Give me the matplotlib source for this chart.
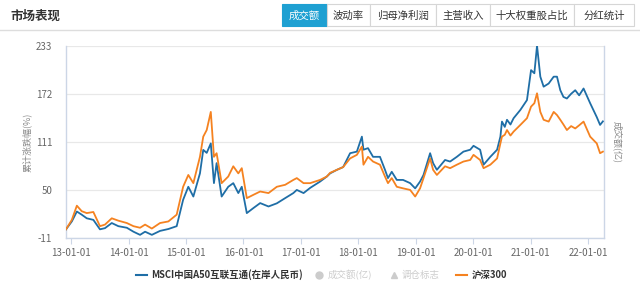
import pandas as pd
import matplotlib
matplotlib.use("Agg")
import matplotlib.pyplot as plt
from matplotlib.patches import Rectangle

plt.rcParams['font.family'] = ['Noto Sans CJK SC', 'DejaVu Sans']

# 数据
dates = ["2012-11-28", "2013-01-04", "2013-02-05", "2013-03-08", "2013-04-09", "2013-05-21",
         "2013-07-02", "2013-08-03", "2013-09-15", "2013-10-27", "2013-12-20", "2014-01-31",
         "2014-03-14", "2014-04-15", "2014-05-28", "2014-07-19", "2014-09-10", "2014-11-02",
         "2014-12-13", "2015-01-15", "2015-02-16", "2015-03-30", "2015-04-20", "2015-05-12",
         "2015-06-07", "2015-06-27", "2015-07-14", "2015-08-15", "2015-09-26", "2015-10-28",
         "2015-11-29", "2015-12-21", "2016-01-22", "2016-03-04", "2016-04-16", "2016-06-08",
         "2016-07-31", "2016-09-22", "2016-11-13", "2016-12-05", "2017-01-17", "2017-02-28",
         "2017-05-02", "2017-06-14", "2017-07-05", "2017-08-17", "2017-09-26", "2017-11-09",
         "2017-12-22", "2018-01-23", "2018-02-02", "2018-03-03", "2018-04-04", "2018-05-18",
         "2018-06-19", "2018-07-08", "2018-08-01", "2018-09-02", "2018-10-12", "2018-11-26",
         "2018-12-28", "2019-01-28", "2019-02-19", "2019-04-02", "2019-04-21", "2019-05-15",
         "2019-07-06", "2019-08-07", "2019-09-19", "2019-10-31", "2019-12-13", "2020-01-03",
         "2020-02-14", "2020-03-07", "2020-04-19", "2020-06-01", "2020-06-22", "2020-07-02",
         "2020-07-20", "2020-08-03", "2020-08-25", "2020-09-14", "2020-10-27", "2020-12-08",
         "2021-01-03", "2021-01-24", "2021-02-10", "2021-03-03", "2021-03-24", "2021-04-25",
         "2021-05-27", "2021-06-17", "2021-07-08", "2021-07-28", "2021-08-19", "2021-09-15",
         "2021-10-11", "2021-11-05", "2021-12-03", "2022-01-14", "2022-02-25", "2022-03-18",
         "2022-04-05"]

msci_a50 = [0, 10, 22.6, 18.6, 14, 12,
            0, 1.5, 8, 4, 2, -3,
            -7, -3, -7, -2, 0.4, 4,
            37.5, 54, 41.6, 71, 100.8, 97,
            109, 58.6, 84, 41.6, 54, 58.6,
            46, 54, 20.6, 27, 33.3, 29,
            33, 39.6, 46, 50, 46, 52.6,
            60.6, 67, 71, 75.5, 79, 96.6,
            98.6, 117.6, 101, 103, 92, 92,
            75.5, 65, 73, 62.7, 62.7, 58.6,
            52, 60.6, 69, 96.6, 84, 75.5,
            88, 86, 92, 98.6, 101, 106,
            101, 82, 92, 101, 117.6, 136.7,
            130, 139, 133, 141, 151.5, 164,
            202, 198, 233, 193.7, 181, 185,
            193.7, 193.7, 176.5, 168, 166, 172,
            176.5, 170, 178.7, 160, 142.4, 132.5,
            137]

hs300 = [0, 12, 30, 23, 20.6, 22,
         4, 6, 14, 11, 8, 4,
         2, 6, 1, 8, 10, 18.6,
         54, 69, 58.6, 92, 117.6, 126,
         149, 92, 96.6, 58.6, 67, 80,
         71, 77.6, 39.6, 43.8, 48, 46,
         54, 56.5, 62.7, 65, 58.6, 58.6,
         62.7, 67, 71.7, 75.5, 79, 90,
         94.5, 105, 82, 92, 86, 82,
         67, 58.6, 65, 54, 52, 50,
         41.6, 52, 65, 90, 75.5, 69,
         80, 77.6, 82, 86, 88, 94.5,
         88, 77.6, 82, 90, 109, 117.6,
         120, 126, 119, 124, 132.5, 141,
         155.7, 160, 172.6, 149, 139, 136.7,
         149, 145, 139, 133, 126, 131,
         128, 132, 136.7, 117.6, 109, 96.6,
         98.6]

y_ticks = [-11, 50, 111, 172, 233]
x_tick_dates = ["2013-01-01", "2014-01-01", "2015-01-01", "2016-01-01", "2017-01-01",
                "2018-01-01", "2019-01-01", "2020-01-01", "2021-01-01", "2022-01-01"]
tabs = ["成交额", "波动率", "归母净利润", "主营收入", "十大权重股占比", "分红统计"]

BLUE = "#1f6ea6"
ORANGE = "#f58220"
AXIS = "#ccd6e6"
GRID = "#e8e8e8"
TXT = "#666666"

W, H = 640, 292
fig = plt.figure(figsize=(W / 100, H / 100), dpi=100)

x = pd.to_datetime(dates)
ax = fig.add_axes([66 / W, 1 - 238 / H, (604 - 66) / W, (238 - 45.7) / H])
ax.plot(x, msci_a50, color=BLUE, lw=1.3, zorder=3)
ax.plot(x, hs300, color=ORANGE, lw=1.3, zorder=3)

ax.set_ylim(y_ticks[0], y_ticks[-1])
ax.set_xlim(pd.Timestamp("2012-11-28"), pd.Timestamp("2022-04-12"))
ax.set_yticks(y_ticks)
ax.set_yticklabels([str(v) for v in y_ticks])
xt = pd.to_datetime(x_tick_dates)
ax.set_xticks(xt)
ax.set_xticklabels([d.strftime("%y-%m-%d") for d in xt])
ax.grid(axis="y", color=GRID, lw=0.9)
ax.set_axisbelow(True)
for s in ["left", "right", "bottom"]:
    ax.spines[s].set_color(AXIS)
    ax.spines[s].set_linewidth(1.0)
ax.spines["top"].set_visible(False)
ax.tick_params(axis="y", length=0, pad=10, labelsize=7, labelcolor=TXT)
ax.tick_params(axis="x", length=4, color=AXIS, pad=3, labelsize=7, labelcolor=TXT)

ax.set_ylabel("累计涨跌幅(%)", fontsize=6.5, color="#888888", labelpad=3)
ax.text(1.025, 0.5, "成交额(亿)", transform=ax.transAxes, rotation=270,
        ha="center", va="center", fontsize=6.5, color="#888888")

# 顶部标题和选项卡
ov = fig.add_axes([0, 0, 1, 1], zorder=-1)
ov.set_xlim(0, W)
ov.set_ylim(H, 0)
ov.axis("off")

ov.text(10, 16, "市场表现", fontsize=9, fontweight="bold", color="#333333",
        ha="left", va="center")
ov.plot([0, W], [30, 30], color="#dddddd", lw=1)

tab_edges = [282, 327, 370, 436, 490, 574, 634]
for i, t in enumerate(tabs):
    x0, x1 = tab_edges[i], tab_edges[i + 1]
    sel = i == 0
    ov.add_patch(Rectangle((x0, 4), x1 - x0, 22, facecolor="#1ea0d2" if sel else "white",
                           edgecolor="#1ea0d2" if sel else "#d6d6d6", lw=0.8))
    ov.text((x0 + x1) / 2, 15.5, t, fontsize=7.5, color="white" if sel else "#333333",
            ha="center", va="center")

# 图例
ly = 275
ov.plot([136, 147], [ly, ly], color=BLUE, lw=1.5)
ov.text(151, ly, "MSCI中国A50互联互通(在岸人民币)", fontsize=6.8, color="#333333",
        ha="left", va="center", fontweight="bold")
ov.plot([319], [ly], marker="o", ms=5, color="#cccccc", lw=0)
ov.text(328, ly, "成交额(亿)", fontsize=6.8, color="#cccccc", ha="left", va="center")
ov.plot([394], [ly], marker="^", ms=5, color="#cccccc", lw=0)
ov.text(402, ly, "调仓标志", fontsize=6.8, color="#cccccc", ha="left", va="center")
ov.plot([456, 467], [ly, ly], color=ORANGE, lw=1.5)
ov.text(472, ly, "沪深300", fontsize=6.8, color="#333333", ha="left", va="center",
        fontweight="bold")

fig.savefig("out.png", dpi=100)
